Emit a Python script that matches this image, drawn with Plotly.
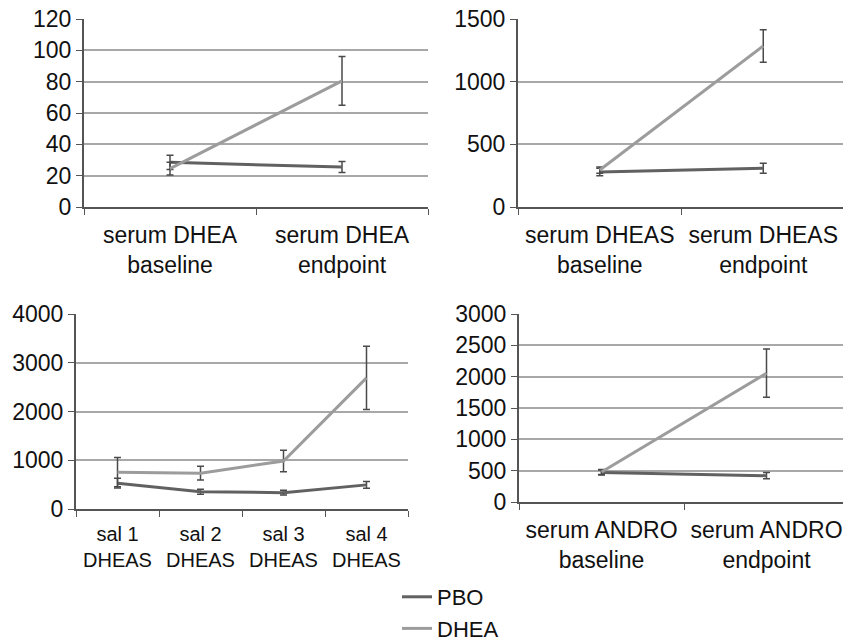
import plotly.graph_objects as go

# ---- data ----
cats_dhea = ["serum DHEA<br>baseline", "serum DHEA<br>endpoint"]
pbo_dhea = [28.5, 25.5]
pbo_dhea_err = [4.5, 3.5]
dhea_dhea = [24.5, 80.5]
dhea_dhea_err = [4.0, 15.5]

cats_dheas = ["serum DHEAS<br>baseline", "serum DHEAS<br>endpoint"]
pbo_dheas = [280, 310]
pbo_dheas_err = [30, 40]
dhea_dheas = [295, 1285]
dhea_dheas_err = [25, 130]

cats_sal = ["sal 1<br>DHEAS", "sal 2<br>DHEAS", "sal 3<br>DHEAS", "sal 4<br>DHEAS"]
pbo_sal = [530, 355, 335, 495]
pbo_sal_err = [100, 50, 50, 70]
dhea_sal = [755, 735, 985, 2690]
dhea_sal_err = [300, 140, 220, 650]

cats_andro = ["serum ANDRO<br>baseline", "serum ANDRO<br>endpoint"]
pbo_andro = [470, 420]
pbo_andro_err = [40, 50]
dhea_andro = [480, 2055]
dhea_andro_err = [40, 385]

y_ranges = [[0, 120], [0, 1500], [0, 4000], [0, 3000]]
y_dticks = [20, 500, 1000, 500]

PBO_COLOR = "#616161"
DHEA_COLOR = "#9c9c9c"
ERR_COLOR = "#4a4a4a"
FONT = "Liberation Sans, Arial, sans-serif"

panels = [
    (cats_dhea, pbo_dhea, pbo_dhea_err, dhea_dhea, dhea_dhea_err),
    (cats_dheas, pbo_dheas, pbo_dheas_err, dhea_dheas, dhea_dheas_err),
    (cats_sal, pbo_sal, pbo_sal_err, dhea_sal, dhea_sal_err),
    (cats_andro, pbo_andro, pbo_andro_err, dhea_andro, dhea_andro_err),
]
xfont_sizes = [23, 23, 20, 23]

W, H = 843, 641
# pixel boxes: (x0, x1, ytop, ybottom, nominal right edge of the full plot area)
boxes = [(84, 428, 19, 207, 428), (518, 843, 19, 207, 845),
         (76, 408, 314, 509, 408), (519, 843, 314, 502, 849)]

fig = go.Figure()
for i, (cats, pv, pe, dv, de) in enumerate(panels):
    n = "" if i == 0 else str(i + 1)
    for name, vals, errs, col in [("PBO", pv, pe, PBO_COLOR), ("DHEA", dv, de, DHEA_COLOR)]:
        fig.add_trace(go.Scatter(
            x=cats, y=vals, mode="lines", name=name,
            line=dict(color=col, width=3),
            error_y=dict(type="data", array=errs, visible=True, color=ERR_COLOR, thickness=1.5, width=3.5),
            xaxis="x" + n, yaxis="y" + n,
            showlegend=(i == 0),
        ))
    x0, x1, yt, yb, xfull = boxes[i]
    ncat = len(cats)
    # the plot area of the right panels runs past the picture's edge: crop the category range
    rng_end = -0.5 + ncat * (x1 - x0) / (xfull - x0)
    xa = dict(domain=[x0 / W, x1 / W], anchor="y" + n, type="category", automargin=False,
              tickson="boundaries", ticks="outside", ticklen=6, tickcolor="#555555",
              showline=True, linecolor="#555555", linewidth=2, showgrid=False,
              ticklabelstandoff=6, tickangle=0,
              tickfont=dict(family=FONT, size=xfont_sizes[i], color="#111111"),
              range=[-0.5, rng_end])
    ya = dict(domain=[1 - yb / H, 1 - yt / H], anchor="x" + n, range=y_ranges[i], automargin=False,
              dtick=y_dticks[i], tick0=0, ticks="outside", ticklen=6, tickcolor="#555555",
              showline=True, linecolor="#555555", linewidth=2,
              showgrid=True, gridcolor="#a8a8a8", gridwidth=1.5, zeroline=False,
              tickfont=dict(family=FONT, size=23, color="#111111"))
    fig.update_layout(**{"xaxis" + n: xa, "yaxis" + n: ya})

fig.update_layout(
    width=W, height=H,
    margin=dict(l=0, r=0, t=0, b=0, autoexpand=False),
    paper_bgcolor="white", plot_bgcolor="white",
    font=dict(family=FONT, size=22, color="#111111"),
    legend=dict(x=397 / W, y=1 - 576 / H, xanchor="left", yanchor="top",
                bgcolor="rgba(0,0,0,0)", tracegroupgap=0, itemwidth=30,
                font=dict(family=FONT, size=22, color="#111111")),
)

fig.write_html("out.html", config={"displayModeBar": False},
               post_script="document.body.style.margin='0';document.body.style.overflow='hidden';")
